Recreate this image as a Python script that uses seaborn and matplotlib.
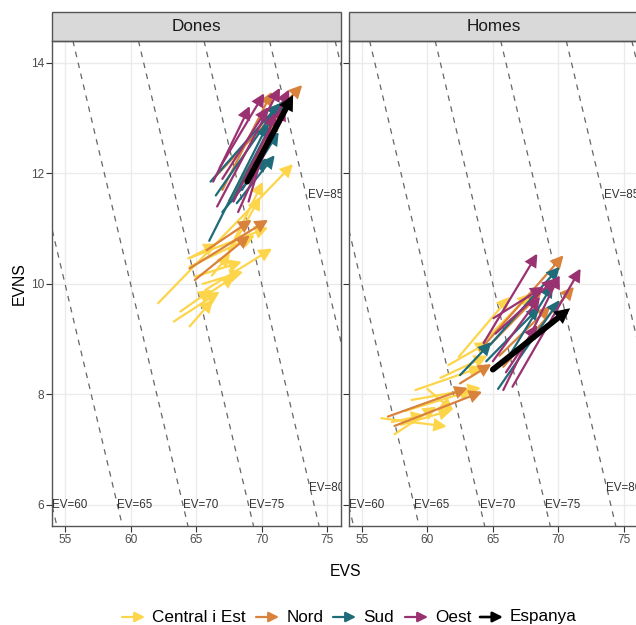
import matplotlib
matplotlib.use("Agg")
import matplotlib.pyplot as plt
from matplotlib.patches import Rectangle
import seaborn as sns
import pandas as pd

# ---------------- data (x0 = EVS start, y0 = EVNS start, x1, y1 = end) -------------
panels = ["Dones", "Homes"]
groups = ["Central i Est", "Nord", "Sud", "Oest", "Espanya"]
colors = ["#FDD54A", "#D9823B", "#1F6B7A", "#9A3171", "#000000"]

dones_central = [(62.1, 9.65, 72.4, 12.17), (67.5, 10.60, 70.1, 11.85), (67.2, 10.43, 69.9, 11.58),
                 (64.4, 10.46, 70.5, 11.02), (65.7, 9.89, 70.8, 10.64), (64.5, 10.31, 69.5, 10.88),
                 (64.5, 10.47, 66.6, 10.73), (64.9, 10.13, 68.5, 10.40), (65.5, 10.00, 68.6, 10.22),
                 (65.8, 9.80, 68.0, 10.15), (63.3, 9.32, 66.8, 9.86), (64.5, 9.23, 66.3, 9.72),
                 (63.8, 9.50, 66.2, 9.90), (66.2, 10.15, 67.6, 10.55)]
dones_nord = [(64.5, 10.28, 70.5, 11.16), (64.9, 10.07, 69.1, 10.88), (65.8, 10.61, 69.25, 11.16),
              (66.3, 11.90, 73.1, 13.60), (67.0, 11.70, 70.8, 13.48), (68.0, 11.60, 71.3, 13.02),
              (67.5, 11.50, 71.1, 12.96)]
dones_sud = [(66.0, 10.78, 70.5, 12.90), (66.1, 11.85, 71.4, 13.27), (67.7, 11.49, 71.7, 13.33),
             (68.1, 11.46, 71.0, 12.33), (67.0, 11.30, 70.4, 12.28), (66.5, 11.60, 70.9, 13.10),
             (68.5, 11.70, 71.3, 12.75)]
dones_oest = [(66.3, 11.85, 69.1, 13.22), (66.6, 11.40, 71.4, 13.55), (67.85, 11.49, 72.1, 13.52),
              (69.0, 11.49, 71.0, 13.10), (67.0, 11.90, 70.5, 13.20), (68.2, 11.30, 71.8, 13.20),
              (66.8, 12.10, 70.2, 13.45)]
dones_espanya = [(68.9, 11.85, 72.4, 13.42)]

homes_central = [(56.5, 7.57, 61.5, 7.42), (57.5, 7.28, 60.7, 7.78), (57.3, 7.50, 59.8, 7.63),
                 (58.0, 7.45, 61.9, 7.72), (58.8, 7.90, 64.1, 8.12), (59.1, 8.08, 64.2, 8.50),
                 (61.6, 8.53, 64.7, 8.95), (62.4, 8.68, 66.3, 9.77), (64.2, 8.93, 67.9, 9.83),
                 (58.3, 7.70, 63.5, 8.08), (61.0, 8.30, 64.6, 8.70), (60.0, 8.10, 62.0, 7.70)]
homes_nord = [(57.0, 7.60, 63.1, 8.12), (57.5, 7.43, 64.2, 8.05), (62.5, 8.20, 64.9, 8.55),
              (64.0, 8.80, 70.4, 10.52), (65.8, 8.50, 71.2, 9.95), (65.5, 8.70, 69.4, 9.60),
              (64.8, 8.90, 68.7, 9.85)]
homes_sud = [(65.4, 8.10, 70.1, 9.71), (64.8, 8.90, 70.1, 10.31), (62.5, 8.35, 64.9, 8.95),
             (64.5, 8.60, 68.6, 9.59), (66.0, 8.60, 69.6, 10.00)]
homes_oest = [(64.3, 8.93, 68.4, 10.55), (66.5, 8.14, 71.7, 10.28), (65.8, 8.08, 70.1, 10.16),
              (65.0, 8.60, 68.6, 9.77), (66.0, 8.40, 68.4, 9.26), (65.2, 9.10, 69.8, 10.10),
              (65.05, 9.38, 68.9, 9.95)]
homes_espanya = [(65.0, 8.45, 70.9, 9.56)]

ev_levels = [55, 60, 65, 70, 75, 80, 85, 90]
ev_labelled = [60, 65, 70, 75, 80, 85]
x_ticks = [55, 60, 65, 70, 75]
y_ticks = [6, 8, 10, 12, 14]

table = {
    ("Dones", "Central i Est"): dones_central, ("Dones", "Nord"): dones_nord,
    ("Dones", "Sud"): dones_sud, ("Dones", "Oest"): dones_oest, ("Dones", "Espanya"): dones_espanya,
    ("Homes", "Central i Est"): homes_central, ("Homes", "Nord"): homes_nord,
    ("Homes", "Sud"): homes_sud, ("Homes", "Oest"): homes_oest, ("Homes", "Espanya"): homes_espanya,
}
rows = []
for p in panels:
    for g in groups:
        for (x0, y0, x1, y1) in table[(p, g)]:
            rows.append(dict(sexe=p, grup=g, x0=x0, y0=y0, x1=x1, y1=y1))
df = pd.DataFrame(rows)

# ---------------- style -------------
sns.set_theme(style="white")
plt.rcParams["font.family"] = ["Liberation Sans", "DejaVu Sans"]
cmap = dict(zip(groups, colors))
FONT = "#4D4D4D"


def draw_arrows(data, **kw):
    ax = plt.gca()
    for _, r in data.iterrows():
        black = r["grup"] == "Espanya"
        ax.annotate("", xy=(r["x1"], r["y1"]), xytext=(r["x0"], r["y0"]),
                    arrowprops=dict(arrowstyle="-|>", color=cmap[r["grup"]],
                                    lw=4.2 if black else 1.6,
                                    mutation_scale=11 if black else 18,
                                    shrinkA=0, shrinkB=0, joinstyle="miter"),
                    zorder=4 if black else 3)


g = sns.FacetGrid(df, col="sexe", col_order=panels, sharex=True, sharey=True,
                  height=4, aspect=0.6, despine=False)
g.map_dataframe(draw_arrows)
fig = g.figure
fig.set_size_inches(6.36, 6.25)
fig.set_dpi(100)

W, H = 636, 625
pos = [(52.3, 40.7, 341.0, 526.0), (349.0, 40.7, 637.7, 526.0)]
for ax, p, (l, t, r, b) in zip(g.axes.flat, panels, pos):
    ax.set_position([l / W, 1 - b / H, (r - l) / W, (b - t) / H])
    ax.set_xlim(54.03, 76.05)
    ax.set_ylim(5.62, 14.40)
    ax.set_facecolor("white")
    ax.set_xticks(x_ticks)
    ax.set_yticks(y_ticks)
    ax.grid(True, color="#EBEBEB", lw=1.0, zorder=0)
    ax.set_axisbelow(True)
    for s in ax.spines.values():
        s.set_color("#555555")
        s.set_linewidth(1.0)
        s.set_visible(True)
        s.set_zorder(6)
    ax.tick_params(axis="both", which="major", length=4, width=0.8, color="#333333",
                   labelsize=8.6, labelcolor=FONT, pad=2, bottom=True, left=True)
    ax.set_title("")
    ax.set_xlabel("")
    ax.set_ylabel("")
    # iso-EV dashed lines
    for ev in ev_levels:
        ax.axline((ev, 0), slope=-1, color="#666666", lw=0.9, ls=(0, (4.5, 4.5)), zorder=1)
    for ev in ev_labelled:
        lx = min(ev - 6, 73.6)
        ly = ev - lx
        if ev == 80:
            lx, ly = 73.6, 6.3
        if ev == 85:
            lx, ly = 73.5, 11.6
        ax.text(lx, ly, f"EV={ev}", ha="left", va="center", fontsize=8.4,
                color="#333333", clip_on=True, zorder=2)
    # strip
    sh = 28.4 / (b - t)
    ax.add_patch(Rectangle((0, 1), 1, sh, transform=ax.transAxes, facecolor="#D9D9D9",
                           edgecolor="#555555", lw=1.0, clip_on=False, zorder=5))
    ax.text(0.5, 1 + sh / 2, p, transform=ax.transAxes, ha="center", va="center",
            fontsize=12.3, color="#1A1A1A", zorder=6)

g.axes.flat[1].tick_params(labelleft=False)

fig.text(345 / W, 1 - 572 / H, "EVS", ha="center", va="center", fontsize=11.3, color="black")
fig.text(19 / W, 1 - 283.4 / H, "EVNS", ha="center", va="center", rotation=90,
         fontsize=11.3, color="black")

# legend
leg_y = 1 - 617 / H
items = [(122, 152), (256, 287), (333, 363), (405, 435), (480, 510)]
for (ax0, tx), grp, col in zip(items, groups, colors):
    black = grp == "Espanya"
    g.axes.flat[0].annotate("", xy=((ax0 + 23) / W, leg_y), xytext=(ax0 / W, leg_y),
                            xycoords=fig.transFigure, textcoords=fig.transFigure,
                            arrowprops=dict(arrowstyle="-|>", color=col, lw=1.9 if black else 1.6,
                                            mutation_scale=15, shrinkA=0, shrinkB=0),
                            annotation_clip=False)
    fig.text(tx / W, leg_y, grp, ha="left", va="center", fontsize=12.3, color="black")

fig.savefig("out.png", dpi=100)
